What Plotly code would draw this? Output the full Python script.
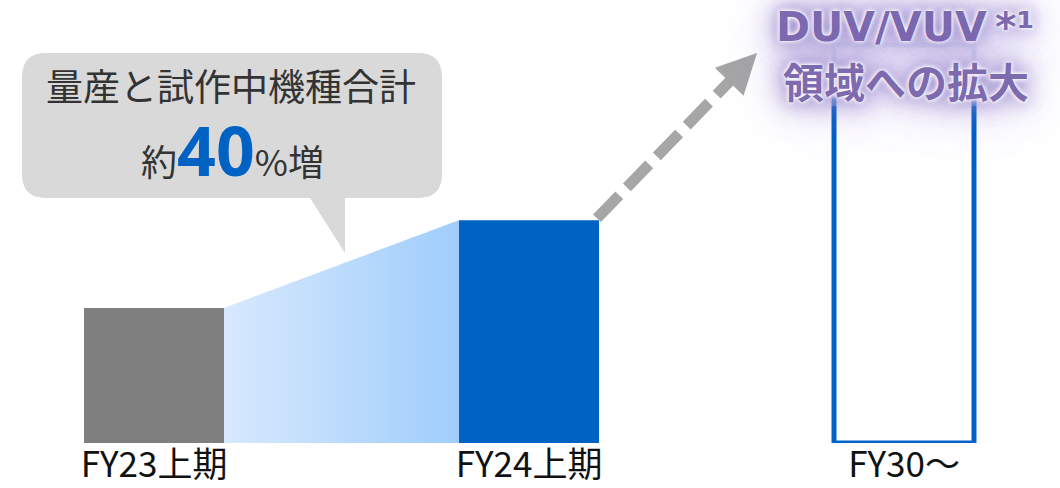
import plotly.graph_objects as go

# ---- data -------------------------------------------------------------
periods = ["FY23上期", "FY24上期", "FY30～"]
volume_index = [100, 165, 295]          # relative shipment volume (FY23上期 = 100)
bar_fill = ["#7f7f7f", "#0062c3", "#ffffff"]
bar_edge = ["#7f7f7f", "#0062c3", "#0062c8"]
bar_edge_width = [0, 0, 5]

callout_line1 = "量産と試作中機種合計"
callout_prefix = "約"
callout_growth = "40"
callout_suffix = "%増"
target_line1 = "DUV/VUV\u2009*¹"
target_line2 = "領域への拡大"

# ---- geometry ---------------------------------------------------------
W, H = 1060, 488
MB = 45
PLOT_H = H - MB
BAR_W = 0.3733
X_RANGE = [-0.4107, 2.416]
Y_RANGE = [0, 328.1]


def x_from_px(px):
    return X_RANGE[0] + px / W * (X_RANGE[1] - X_RANGE[0])


def y_from_py(py):
    return (PLOT_H - py) / PLOT_H * Y_RANGE[1]


def x_to_px(x):
    return (x - X_RANGE[0]) / (X_RANGE[1] - X_RANGE[0]) * W


def y_to_py(y):
    return PLOT_H - y / Y_RANGE[1] * PLOT_H


def pxp(px):
    return px / W


def pyp(py):
    return (PLOT_H - py) / PLOT_H


fig = go.Figure()

# bars
fig.add_trace(go.Bar(
    x=[0, 1, 2], y=volume_index, width=[BAR_W] * 3,
    marker=dict(color=bar_fill, line=dict(color=bar_edge, width=bar_edge_width)),
    hoverinfo="skip", showlegend=False,
))

# gradient connector between the first two bars
c_left = (216, 233, 253)
c_right = (160, 205, 252)
xa = 0 + BAR_W / 2
xb = 1 - BAR_W / 2
N = 80
for i in range(N):
    t0 = i / N
    t1 = min(1.0, (i + 1.6) / N)
    tm = (i + 0.5) / N
    x0 = xa + t0 * (xb - xa)
    x1 = xa + t1 * (xb - xa)
    y0 = volume_index[0] + t0 * (volume_index[1] - volume_index[0])
    y1 = volume_index[0] + t1 * (volume_index[1] - volume_index[0])
    col = tuple(round(c_left[k] + tm * (c_right[k] - c_left[k])) for k in range(3))
    fig.add_trace(go.Scatter(
        x=[x0, x1, x1, x0, x0], y=[0, 0, y1, y0, 0],
        fill="toself", fillcolor="rgb(%d,%d,%d)" % col,
        mode="lines", line=dict(width=0), hoverinfo="skip", showlegend=False,
    ))

# dashed growth arrow leaving the FY24 bar
sx, sy = x_to_px(1 + BAR_W / 2) - 2, y_to_py(volume_index[1]) - 2
tx, ty = 757, 53
L = ((tx - sx) ** 2 + (ty - sy) ** 2) ** 0.5
ux, uy = (tx - sx) / L, (ty - sy) / L
nx, ny = -uy, ux
head_len, head_half = 40, 20
bx, by = tx - head_len * ux, ty - head_len * uy
fig.add_trace(go.Scatter(
    x=[x_from_px(sx), x_from_px(bx + 2 * ux)], y=[y_from_py(sy), y_from_py(by + 2 * uy)],
    mode="lines", line=dict(color="#a6a6a6", width=11, dash="32px,11px"),
    hoverinfo="skip", showlegend=False,
))
fig.add_trace(go.Scatter(
    x=[x_from_px(tx), x_from_px(bx + head_half * nx), x_from_px(bx - head_half * nx), x_from_px(tx)],
    y=[y_from_py(ty), y_from_py(by + head_half * ny), y_from_py(by - head_half * ny), y_from_py(ty)],
    fill="toself", fillcolor="#a6a6a6", mode="lines", line=dict(width=0),
    hoverinfo="skip", showlegend=False,
))

shapes = []

# speech bubble
L_, R_, T_, B_, r = 22, 442, 53, 198, 24


def P(px, py):
    return "%.5f,%.5f" % (pxp(px), pyp(py))


bubble = (
    "M " + P(L_ + r, T_) + " L " + P(R_ - r, T_) + " Q " + P(R_, T_) + " " + P(R_, T_ + r)
    + " L " + P(R_, B_ - r) + " Q " + P(R_, B_) + " " + P(R_ - r, B_)
    + " L " + P(345, B_) + " L " + P(345, 253) + " L " + P(310, B_)
    + " L " + P(L_ + r, B_) + " Q " + P(L_, B_) + " " + P(L_, B_ - r)
    + " L " + P(L_, T_ + r) + " Q " + P(L_, T_) + " " + P(L_ + r, T_) + " Z"
)
shapes.append(dict(type="path", xref="paper", yref="paper", path=bubble,
                   fillcolor="#d9d9d9", line=dict(width=0), layer="above"))

# soft white fade over the top of the FY30 outline
for b in [50, 58, 66, 74, 82, 90, 98, 106]:
    shapes.append(dict(type="rect", xref="paper", yref="paper",
                       x0=pxp(815), x1=pxp(995), y0=pyp(b), y1=pyp(-10),
                       fillcolor="rgba(255,255,255,0.30)", line=dict(width=0), layer="above"))

annotations = [
    dict(x=pxp(231), y=pyp(85), xref="paper", yref="paper", xanchor="center", yanchor="middle",
         text=callout_line1, showarrow=False,
         font=dict(family="Noto Sans CJK JP", size=37, color="#333333")),
    dict(x=pxp(232), y=pyp(198), xref="paper", yref="paper", xanchor="center", yanchor="bottom",
         text=(callout_prefix
               + "<span style='font-family:Noto Sans;font-size:68px;font-weight:bold;color:#0063c4'>"
               + callout_growth + "</span>" + callout_suffix),
         showarrow=False,
         font=dict(family="Noto Sans CJK JP", size=36, color="#333333")),
]

glow = ("0 0 2px #ffffff, 0 0 4px #ffffff, 0 0 6px #ffffff, "
        "0 0 14px rgba(140,120,200,0.85), 0 0 24px rgba(140,120,200,0.85), "
        "0 0 38px rgba(150,130,210,0.75), 0 0 55px rgba(160,140,215,0.6)")
annotations += [
    dict(x=pxp(905), y=pyp(27), xref="paper", yref="paper", xanchor="center", yanchor="middle",
         text=target_line1, showarrow=False,
         font=dict(family="DejaVu Sans", size=41, color="#7d6aaf", weight="bold", shadow=glow)),
    dict(x=pxp(906), y=pyp(80), xref="paper", yref="paper", xanchor="center", yanchor="middle",
         text=target_line2, showarrow=False,
         font=dict(family="Noto Sans CJK JP", size=41, color="#7d6aaf", weight="bold", shadow=glow)),
]

fig.update_layout(
    width=W, height=H,
    margin=dict(l=0, r=0, t=0, b=MB, autoexpand=False),
    paper_bgcolor="white", plot_bgcolor="white",
    showlegend=False,
    shapes=shapes, annotations=annotations,
    xaxis=dict(range=X_RANGE, tickvals=[0, 1, 2], ticktext=periods,
               tickfont=dict(family="Noto Sans CJK JP", size=35, color="#111111"),
               ticklabelstandoff=-2, automargin=False,
               showgrid=False, zeroline=False, showline=False, ticks="", fixedrange=True),
    yaxis=dict(range=Y_RANGE, visible=False, fixedrange=True, automargin=False),
    barmode="overlay",
)

fig.write_html("out.html")
